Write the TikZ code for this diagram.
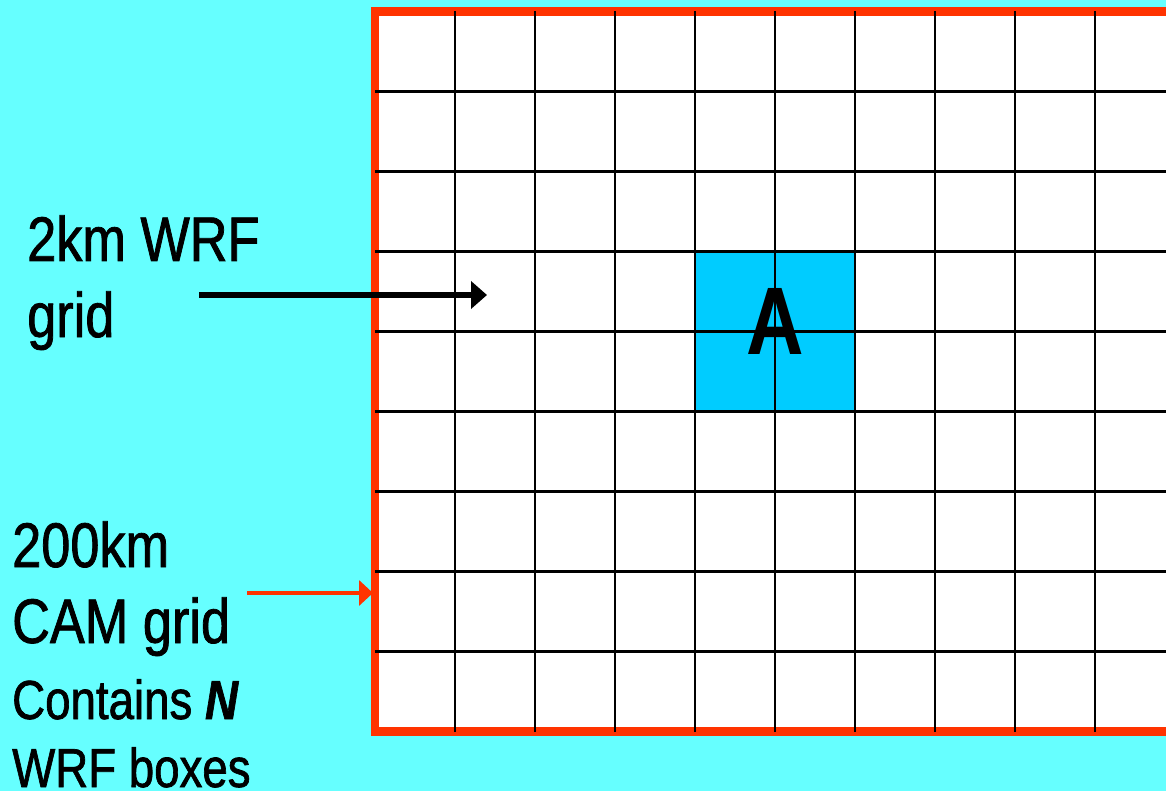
\documentclass[tikz,border=0pt]{standalone}
\usepackage{fontspec}
\setmainfont{Liberation Sans}[FakeStretch=0.83]
\newfontfamily\lblfont{Liberation Sans}[FakeStretch=0.83, FakeBold=1.2]
\usetikzlibrary{arrows.meta}
\definecolor{bgcyan}{HTML}{66FFFF}
\definecolor{camred}{HTML}{FF3300}
\definecolor{cellblue}{HTML}{00CCFF}
\begin{document}
\begin{tikzpicture}[x=1pt,y=-1pt,
  lbl/.style={inner sep=0pt, anchor=base west, align=left, text=black},
  bigtext/.style={font=\lblfont\fontsize{63}{76}\selectfont},
  smalltext/.style={font=\lblfont\fontsize{55}{68}\selectfont},
  gridline/.style={black, line width=2.2pt},
  camborder/.style={camred, line width=8.5pt, fill=white},
  wrfarrow/.style={black, line width=5.4pt, -{Triangle[length=16pt,width=27pt]}},
  camarrow/.style={camred, line width=4.5pt, -{Triangle[length=14pt,width=25pt]}}]
\useasboundingbox (0,0) rectangle (1166,791);
\clip (0,0) rectangle (1166,791);
\fill[bgcyan] (0,0) rectangle (1166,791);
% CAM box
\draw[camborder] (375,11.5) rectangle (1220,731.5);
% highlighted cell block
\fill[cellblue] (695,251.5) rectangle (855,411.5);
% WRF grid
\foreach \x in {455,535,...,1095} \draw[gridline] (\x,11.5) -- (\x,731.5);
\foreach \y in {91.5,171.5,...,651.5} \draw[gridline] (375,\y) -- (1166,\y);
% label A
\node[inner sep=0pt, font=\bfseries\fontsize{96}{96}\selectfont] (A) at (775,321.5) {A};
% text labels (anchored at the baseline of their last line)
\node[lbl, bigtext] (wrf) at (27,337) {2km WRF\\grid};
\node[lbl, bigtext] (cam) at (12,643) {200km\\CAM grid};
\node[lbl, smalltext] (contains) at (12,787) {Contains \textbf{\textit{N}}\\WRF boxes};
% arrows
\coordinate (wrfstart) at (199,295);
\coordinate (wrftip) at (487,295);
\coordinate (camstart) at (247,593);
\coordinate (camtip) at (373,593);
\draw[wrfarrow] (wrfstart) -- (wrftip);
\draw[camarrow] (camstart) -- (camtip);
\end{tikzpicture}
\end{document}
